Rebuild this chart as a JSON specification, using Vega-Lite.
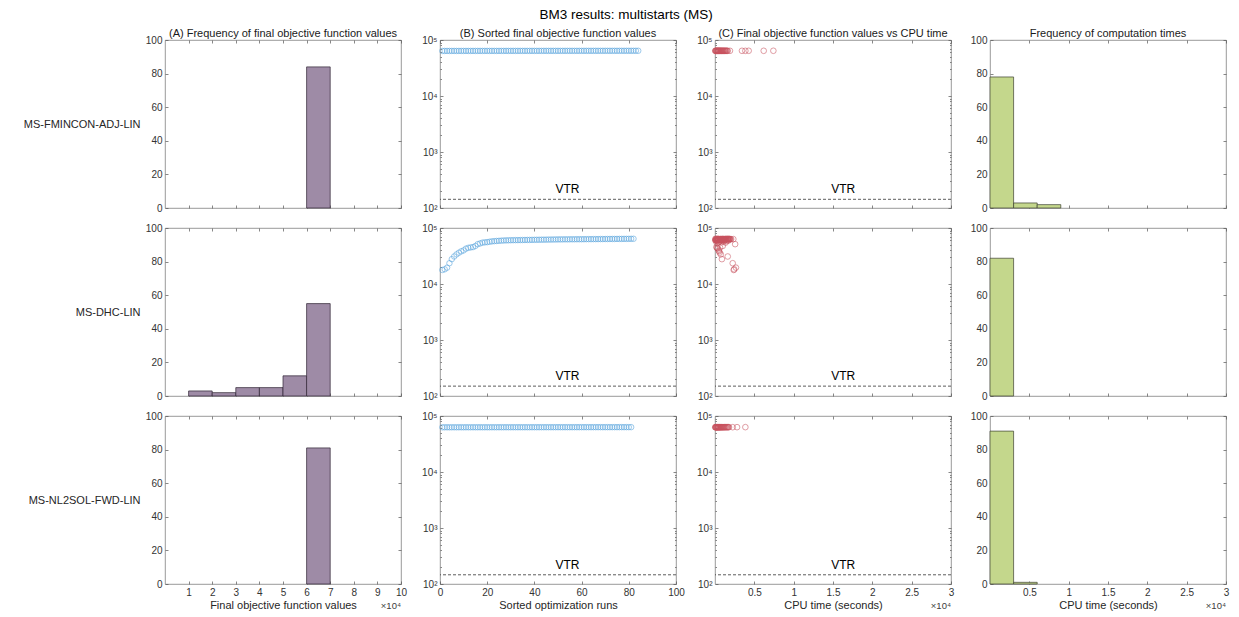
{
  "$schema": "https://vega.github.io/schema/vega-lite/v6.json",
  "title": {"text": "BM3 results: multistarts (MS)", "fontSize": 13.5, "offset": 6, "frame": "bounds", "anchor": "middle", "color": "#000000"},
  "padding": {"left": 22, "top": 8, "right": 5, "bottom": 5},
  "bounds": "flush",
  "columns": 4,
  "spacing": {"row": 20, "column": 39},
  "datasets": {
    "objHist": [
      {"method": "MS-FMINCON-ADJ-LIN", "lo": 60000, "hi": 70000, "count": 84},
      {"method": "MS-DHC-LIN", "lo": 10000, "hi": 20000, "count": 3},
      {"method": "MS-DHC-LIN", "lo": 20000, "hi": 30000, "count": 2},
      {"method": "MS-DHC-LIN", "lo": 30000, "hi": 40000, "count": 5},
      {"method": "MS-DHC-LIN", "lo": 40000, "hi": 50000, "count": 5},
      {"method": "MS-DHC-LIN", "lo": 50000, "hi": 60000, "count": 12},
      {"method": "MS-DHC-LIN", "lo": 60000, "hi": 70000, "count": 55},
      {"method": "MS-NL2SOL-FWD-LIN", "lo": 60000, "hi": 70000, "count": 81},
      {"method": "MS-NL2SOL-FWD-LIN", "note": "×10⁴"}
    ],
    "cpuHist": [
      {"method": "MS-FMINCON-ADJ-LIN", "lo": 0, "hi": 3000, "count": 78},
      {"method": "MS-FMINCON-ADJ-LIN", "lo": 3000, "hi": 6000, "count": 3},
      {"method": "MS-FMINCON-ADJ-LIN", "lo": 6000, "hi": 9000, "count": 2},
      {"method": "MS-DHC-LIN", "lo": 0, "hi": 3000, "count": 82},
      {"method": "MS-NL2SOL-FWD-LIN", "lo": 0, "hi": 3000, "count": 91},
      {"method": "MS-NL2SOL-FWD-LIN", "lo": 3000, "hi": 6000, "count": 1},
      {"method": "MS-NL2SOL-FWD-LIN", "note": "×10⁴"}
    ],
    "sortedRuns": [
      {"method": "MS-FMINCON-ADJ-LIN", "vtr": 143},
      {"method": "MS-DHC-LIN", "vtr": 150},
      {"method": "MS-NL2SOL-FWD-LIN", "vtr": 146},
      {"method": "MS-FMINCON-ADJ-LIN", "run": 1, "f": 63790}, {"method": "MS-FMINCON-ADJ-LIN", "run": 2, "f": 63795}, {"method": "MS-FMINCON-ADJ-LIN", "run": 3, "f": 63801}, {"method": "MS-FMINCON-ADJ-LIN", "run": 4, "f": 63806}, {"method": "MS-FMINCON-ADJ-LIN", "run": 5, "f": 63808},
      {"method": "MS-FMINCON-ADJ-LIN", "run": 6, "f": 63815}, {"method": "MS-FMINCON-ADJ-LIN", "run": 7, "f": 63821}, {"method": "MS-FMINCON-ADJ-LIN", "run": 8, "f": 63824}, {"method": "MS-FMINCON-ADJ-LIN", "run": 9, "f": 63830}, {"method": "MS-FMINCON-ADJ-LIN", "run": 10, "f": 63836},
      {"method": "MS-FMINCON-ADJ-LIN", "run": 11, "f": 63841}, {"method": "MS-FMINCON-ADJ-LIN", "run": 12, "f": 63845}, {"method": "MS-FMINCON-ADJ-LIN", "run": 13, "f": 63852}, {"method": "MS-FMINCON-ADJ-LIN", "run": 14, "f": 63856}, {"method": "MS-FMINCON-ADJ-LIN", "run": 15, "f": 63860},
      {"method": "MS-FMINCON-ADJ-LIN", "run": 16, "f": 63867}, {"method": "MS-FMINCON-ADJ-LIN", "run": 17, "f": 63871}, {"method": "MS-FMINCON-ADJ-LIN", "run": 18, "f": 63875}, {"method": "MS-FMINCON-ADJ-LIN", "run": 19, "f": 63882}, {"method": "MS-FMINCON-ADJ-LIN", "run": 20, "f": 63888},
      {"method": "MS-FMINCON-ADJ-LIN", "run": 21, "f": 63890}, {"method": "MS-FMINCON-ADJ-LIN", "run": 22, "f": 63896}, {"method": "MS-FMINCON-ADJ-LIN", "run": 23, "f": 63903}, {"method": "MS-FMINCON-ADJ-LIN", "run": 24, "f": 63907}, {"method": "MS-FMINCON-ADJ-LIN", "run": 25, "f": 63912},
      {"method": "MS-FMINCON-ADJ-LIN", "run": 26, "f": 63918}, {"method": "MS-FMINCON-ADJ-LIN", "run": 27, "f": 63921}, {"method": "MS-FMINCON-ADJ-LIN", "run": 28, "f": 63927}, {"method": "MS-FMINCON-ADJ-LIN", "run": 29, "f": 63934}, {"method": "MS-FMINCON-ADJ-LIN", "run": 30, "f": 63938},
      {"method": "MS-FMINCON-ADJ-LIN", "run": 31, "f": 63941}, {"method": "MS-FMINCON-ADJ-LIN", "run": 32, "f": 63948}, {"method": "MS-FMINCON-ADJ-LIN", "run": 33, "f": 63953}, {"method": "MS-FMINCON-ADJ-LIN", "run": 34, "f": 63957}, {"method": "MS-FMINCON-ADJ-LIN", "run": 35, "f": 63962},
      {"method": "MS-FMINCON-ADJ-LIN", "run": 36, "f": 63968}, {"method": "MS-FMINCON-ADJ-LIN", "run": 37, "f": 63971}, {"method": "MS-FMINCON-ADJ-LIN", "run": 38, "f": 63977}, {"method": "MS-FMINCON-ADJ-LIN", "run": 39, "f": 63983}, {"method": "MS-FMINCON-ADJ-LIN", "run": 40, "f": 63986},
      {"method": "MS-FMINCON-ADJ-LIN", "run": 41, "f": 63992}, {"method": "MS-FMINCON-ADJ-LIN", "run": 42, "f": 63998}, {"method": "MS-FMINCON-ADJ-LIN", "run": 43, "f": 64002}, {"method": "MS-FMINCON-ADJ-LIN", "run": 44, "f": 64009}, {"method": "MS-FMINCON-ADJ-LIN", "run": 45, "f": 64013},
      {"method": "MS-FMINCON-ADJ-LIN", "run": 46, "f": 64017}, {"method": "MS-FMINCON-ADJ-LIN", "run": 47, "f": 64024}, {"method": "MS-FMINCON-ADJ-LIN", "run": 48, "f": 64029}, {"method": "MS-FMINCON-ADJ-LIN", "run": 49, "f": 64033}, {"method": "MS-FMINCON-ADJ-LIN", "run": 50, "f": 64038},
      {"method": "MS-FMINCON-ADJ-LIN", "run": 51, "f": 64044}, {"method": "MS-FMINCON-ADJ-LIN", "run": 52, "f": 64047}, {"method": "MS-FMINCON-ADJ-LIN", "run": 53, "f": 64053}, {"method": "MS-FMINCON-ADJ-LIN", "run": 54, "f": 64059}, {"method": "MS-FMINCON-ADJ-LIN", "run": 55, "f": 64062},
      {"method": "MS-FMINCON-ADJ-LIN", "run": 56, "f": 64068}, {"method": "MS-FMINCON-ADJ-LIN", "run": 57, "f": 64073}, {"method": "MS-FMINCON-ADJ-LIN", "run": 58, "f": 64079}, {"method": "MS-FMINCON-ADJ-LIN", "run": 59, "f": 64083}, {"method": "MS-FMINCON-ADJ-LIN", "run": 60, "f": 64088},
      {"method": "MS-FMINCON-ADJ-LIN", "run": 61, "f": 64094}, {"method": "MS-FMINCON-ADJ-LIN", "run": 62, "f": 64097}, {"method": "MS-FMINCON-ADJ-LIN", "run": 63, "f": 64103}, {"method": "MS-FMINCON-ADJ-LIN", "run": 64, "f": 64110}, {"method": "MS-FMINCON-ADJ-LIN", "run": 65, "f": 64114},
      {"method": "MS-FMINCON-ADJ-LIN", "run": 66, "f": 64118}, {"method": "MS-FMINCON-ADJ-LIN", "run": 67, "f": 64125}, {"method": "MS-FMINCON-ADJ-LIN", "run": 68, "f": 64129}, {"method": "MS-FMINCON-ADJ-LIN", "run": 69, "f": 64134}, {"method": "MS-FMINCON-ADJ-LIN", "run": 70, "f": 64139},
      {"method": "MS-FMINCON-ADJ-LIN", "run": 71, "f": 64144}, {"method": "MS-FMINCON-ADJ-LIN", "run": 72, "f": 64149}, {"method": "MS-FMINCON-ADJ-LIN", "run": 73, "f": 64155}, {"method": "MS-FMINCON-ADJ-LIN", "run": 74, "f": 64158}, {"method": "MS-FMINCON-ADJ-LIN", "run": 75, "f": 64164},
      {"method": "MS-FMINCON-ADJ-LIN", "run": 76, "f": 64170}, {"method": "MS-FMINCON-ADJ-LIN", "run": 77, "f": 64173}, {"method": "MS-FMINCON-ADJ-LIN", "run": 78, "f": 64179}, {"method": "MS-FMINCON-ADJ-LIN", "run": 79, "f": 64186}, {"method": "MS-FMINCON-ADJ-LIN", "run": 80, "f": 64190},
      {"method": "MS-FMINCON-ADJ-LIN", "run": 81, "f": 64195}, {"method": "MS-FMINCON-ADJ-LIN", "run": 82, "f": 64201}, {"method": "MS-FMINCON-ADJ-LIN", "run": 83, "f": 64208}, {"method": "MS-FMINCON-ADJ-LIN", "run": 84, "f": 64230},
      {"method": "MS-DHC-LIN", "run": 1, "f": 17800}, {"method": "MS-DHC-LIN", "run": 2, "f": 18300}, {"method": "MS-DHC-LIN", "run": 3, "f": 19600}, {"method": "MS-DHC-LIN", "run": 4, "f": 23500}, {"method": "MS-DHC-LIN", "run": 5, "f": 27800},
      {"method": "MS-DHC-LIN", "run": 6, "f": 31000}, {"method": "MS-DHC-LIN", "run": 7, "f": 33800}, {"method": "MS-DHC-LIN", "run": 8, "f": 36200}, {"method": "MS-DHC-LIN", "run": 9, "f": 38300}, {"method": "MS-DHC-LIN", "run": 10, "f": 39800},
      {"method": "MS-DHC-LIN", "run": 11, "f": 42800}, {"method": "MS-DHC-LIN", "run": 12, "f": 44300}, {"method": "MS-DHC-LIN", "run": 13, "f": 45000}, {"method": "MS-DHC-LIN", "run": 14, "f": 45600}, {"method": "MS-DHC-LIN", "run": 15, "f": 47800},
      {"method": "MS-DHC-LIN", "run": 16, "f": 51500}, {"method": "MS-DHC-LIN", "run": 17, "f": 53000}, {"method": "MS-DHC-LIN", "run": 18, "f": 54800}, {"method": "MS-DHC-LIN", "run": 19, "f": 55400}, {"method": "MS-DHC-LIN", "run": 20, "f": 55900},
      {"method": "MS-DHC-LIN", "run": 21, "f": 56800}, {"method": "MS-DHC-LIN", "run": 22, "f": 57700}, {"method": "MS-DHC-LIN", "run": 23, "f": 58200}, {"method": "MS-DHC-LIN", "run": 24, "f": 58700}, {"method": "MS-DHC-LIN", "run": 25, "f": 59100},
      {"method": "MS-DHC-LIN", "run": 26, "f": 59500}, {"method": "MS-DHC-LIN", "run": 27, "f": 59800}, {"method": "MS-DHC-LIN", "run": 28, "f": 60100}, {"method": "MS-DHC-LIN", "run": 29, "f": 60300}, {"method": "MS-DHC-LIN", "run": 30, "f": 60500},
      {"method": "MS-DHC-LIN", "run": 31, "f": 60600}, {"method": "MS-DHC-LIN", "run": 32, "f": 60700}, {"method": "MS-DHC-LIN", "run": 33, "f": 60800}, {"method": "MS-DHC-LIN", "run": 34, "f": 60900}, {"method": "MS-DHC-LIN", "run": 35, "f": 61000},
      {"method": "MS-DHC-LIN", "run": 36, "f": 61100}, {"method": "MS-DHC-LIN", "run": 37, "f": 61200}, {"method": "MS-DHC-LIN", "run": 38, "f": 61300}, {"method": "MS-DHC-LIN", "run": 39, "f": 61400}, {"method": "MS-DHC-LIN", "run": 40, "f": 61500},
      {"method": "MS-DHC-LIN", "run": 41, "f": 61600}, {"method": "MS-DHC-LIN", "run": 42, "f": 61700}, {"method": "MS-DHC-LIN", "run": 43, "f": 61800}, {"method": "MS-DHC-LIN", "run": 44, "f": 61900}, {"method": "MS-DHC-LIN", "run": 45, "f": 62000},
      {"method": "MS-DHC-LIN", "run": 46, "f": 62100}, {"method": "MS-DHC-LIN", "run": 47, "f": 62200}, {"method": "MS-DHC-LIN", "run": 48, "f": 62300}, {"method": "MS-DHC-LIN", "run": 49, "f": 62400}, {"method": "MS-DHC-LIN", "run": 50, "f": 62500},
      {"method": "MS-DHC-LIN", "run": 51, "f": 62600}, {"method": "MS-DHC-LIN", "run": 52, "f": 62650}, {"method": "MS-DHC-LIN", "run": 53, "f": 62700}, {"method": "MS-DHC-LIN", "run": 54, "f": 62750}, {"method": "MS-DHC-LIN", "run": 55, "f": 62800},
      {"method": "MS-DHC-LIN", "run": 56, "f": 62850}, {"method": "MS-DHC-LIN", "run": 57, "f": 62900}, {"method": "MS-DHC-LIN", "run": 58, "f": 62950}, {"method": "MS-DHC-LIN", "run": 59, "f": 63000}, {"method": "MS-DHC-LIN", "run": 60, "f": 63050},
      {"method": "MS-DHC-LIN", "run": 61, "f": 63100}, {"method": "MS-DHC-LIN", "run": 62, "f": 63150}, {"method": "MS-DHC-LIN", "run": 63, "f": 63200}, {"method": "MS-DHC-LIN", "run": 64, "f": 63250}, {"method": "MS-DHC-LIN", "run": 65, "f": 63300},
      {"method": "MS-DHC-LIN", "run": 66, "f": 63350}, {"method": "MS-DHC-LIN", "run": 67, "f": 63400}, {"method": "MS-DHC-LIN", "run": 68, "f": 63450}, {"method": "MS-DHC-LIN", "run": 69, "f": 63500}, {"method": "MS-DHC-LIN", "run": 70, "f": 63550},
      {"method": "MS-DHC-LIN", "run": 71, "f": 63600}, {"method": "MS-DHC-LIN", "run": 72, "f": 63650}, {"method": "MS-DHC-LIN", "run": 73, "f": 63700}, {"method": "MS-DHC-LIN", "run": 74, "f": 63750}, {"method": "MS-DHC-LIN", "run": 75, "f": 63800},
      {"method": "MS-DHC-LIN", "run": 76, "f": 63850}, {"method": "MS-DHC-LIN", "run": 77, "f": 63900}, {"method": "MS-DHC-LIN", "run": 78, "f": 63950}, {"method": "MS-DHC-LIN", "run": 79, "f": 64000}, {"method": "MS-DHC-LIN", "run": 80, "f": 64050},
      {"method": "MS-DHC-LIN", "run": 81, "f": 64100}, {"method": "MS-DHC-LIN", "run": 82, "f": 64200},
      {"method": "MS-NL2SOL-FWD-LIN", "run": 1, "f": 62840}, {"method": "MS-NL2SOL-FWD-LIN", "run": 2, "f": 62846}, {"method": "MS-NL2SOL-FWD-LIN", "run": 3, "f": 62851}, {"method": "MS-NL2SOL-FWD-LIN", "run": 4, "f": 62855}, {"method": "MS-NL2SOL-FWD-LIN", "run": 5, "f": 62861},
      {"method": "MS-NL2SOL-FWD-LIN", "run": 6, "f": 62864}, {"method": "MS-NL2SOL-FWD-LIN", "run": 7, "f": 62870}, {"method": "MS-NL2SOL-FWD-LIN", "run": 8, "f": 62876}, {"method": "MS-NL2SOL-FWD-LIN", "run": 9, "f": 62879}, {"method": "MS-NL2SOL-FWD-LIN", "run": 10, "f": 62885},
      {"method": "MS-NL2SOL-FWD-LIN", "run": 11, "f": 62889}, {"method": "MS-NL2SOL-FWD-LIN", "run": 12, "f": 62894}, {"method": "MS-NL2SOL-FWD-LIN", "run": 13, "f": 62900}, {"method": "MS-NL2SOL-FWD-LIN", "run": 14, "f": 62903}, {"method": "MS-NL2SOL-FWD-LIN", "run": 15, "f": 62909},
      {"method": "MS-NL2SOL-FWD-LIN", "run": 16, "f": 62914}, {"method": "MS-NL2SOL-FWD-LIN", "run": 17, "f": 62918}, {"method": "MS-NL2SOL-FWD-LIN", "run": 18, "f": 62923}, {"method": "MS-NL2SOL-FWD-LIN", "run": 19, "f": 62929}, {"method": "MS-NL2SOL-FWD-LIN", "run": 20, "f": 62932},
      {"method": "MS-NL2SOL-FWD-LIN", "run": 21, "f": 62938}, {"method": "MS-NL2SOL-FWD-LIN", "run": 22, "f": 62943}, {"method": "MS-NL2SOL-FWD-LIN", "run": 23, "f": 62947}, {"method": "MS-NL2SOL-FWD-LIN", "run": 24, "f": 62952}, {"method": "MS-NL2SOL-FWD-LIN", "run": 25, "f": 62958},
      {"method": "MS-NL2SOL-FWD-LIN", "run": 26, "f": 62961}, {"method": "MS-NL2SOL-FWD-LIN", "run": 27, "f": 62967}, {"method": "MS-NL2SOL-FWD-LIN", "run": 28, "f": 62972}, {"method": "MS-NL2SOL-FWD-LIN", "run": 29, "f": 62976}, {"method": "MS-NL2SOL-FWD-LIN", "run": 30, "f": 62981},
      {"method": "MS-NL2SOL-FWD-LIN", "run": 31, "f": 62987}, {"method": "MS-NL2SOL-FWD-LIN", "run": 32, "f": 62990}, {"method": "MS-NL2SOL-FWD-LIN", "run": 33, "f": 62996}, {"method": "MS-NL2SOL-FWD-LIN", "run": 34, "f": 63001}, {"method": "MS-NL2SOL-FWD-LIN", "run": 35, "f": 63005},
      {"method": "MS-NL2SOL-FWD-LIN", "run": 36, "f": 63010}, {"method": "MS-NL2SOL-FWD-LIN", "run": 37, "f": 63016}, {"method": "MS-NL2SOL-FWD-LIN", "run": 38, "f": 63019}, {"method": "MS-NL2SOL-FWD-LIN", "run": 39, "f": 63025}, {"method": "MS-NL2SOL-FWD-LIN", "run": 40, "f": 63030},
      {"method": "MS-NL2SOL-FWD-LIN", "run": 41, "f": 63034}, {"method": "MS-NL2SOL-FWD-LIN", "run": 42, "f": 63039}, {"method": "MS-NL2SOL-FWD-LIN", "run": 43, "f": 63045}, {"method": "MS-NL2SOL-FWD-LIN", "run": 44, "f": 63048}, {"method": "MS-NL2SOL-FWD-LIN", "run": 45, "f": 63054},
      {"method": "MS-NL2SOL-FWD-LIN", "run": 46, "f": 63059}, {"method": "MS-NL2SOL-FWD-LIN", "run": 47, "f": 63063}, {"method": "MS-NL2SOL-FWD-LIN", "run": 48, "f": 63068}, {"method": "MS-NL2SOL-FWD-LIN", "run": 49, "f": 63074}, {"method": "MS-NL2SOL-FWD-LIN", "run": 50, "f": 63077},
      {"method": "MS-NL2SOL-FWD-LIN", "run": 51, "f": 63083}, {"method": "MS-NL2SOL-FWD-LIN", "run": 52, "f": 63088}, {"method": "MS-NL2SOL-FWD-LIN", "run": 53, "f": 63092}, {"method": "MS-NL2SOL-FWD-LIN", "run": 54, "f": 63097}, {"method": "MS-NL2SOL-FWD-LIN", "run": 55, "f": 63103},
      {"method": "MS-NL2SOL-FWD-LIN", "run": 56, "f": 63106}, {"method": "MS-NL2SOL-FWD-LIN", "run": 57, "f": 63112}, {"method": "MS-NL2SOL-FWD-LIN", "run": 58, "f": 63117}, {"method": "MS-NL2SOL-FWD-LIN", "run": 59, "f": 63121}, {"method": "MS-NL2SOL-FWD-LIN", "run": 60, "f": 63126},
      {"method": "MS-NL2SOL-FWD-LIN", "run": 61, "f": 63132}, {"method": "MS-NL2SOL-FWD-LIN", "run": 62, "f": 63135}, {"method": "MS-NL2SOL-FWD-LIN", "run": 63, "f": 63141}, {"method": "MS-NL2SOL-FWD-LIN", "run": 64, "f": 63146}, {"method": "MS-NL2SOL-FWD-LIN", "run": 65, "f": 63150},
      {"method": "MS-NL2SOL-FWD-LIN", "run": 66, "f": 63155}, {"method": "MS-NL2SOL-FWD-LIN", "run": 67, "f": 63161}, {"method": "MS-NL2SOL-FWD-LIN", "run": 68, "f": 63164}, {"method": "MS-NL2SOL-FWD-LIN", "run": 69, "f": 63170}, {"method": "MS-NL2SOL-FWD-LIN", "run": 70, "f": 63175},
      {"method": "MS-NL2SOL-FWD-LIN", "run": 71, "f": 63179}, {"method": "MS-NL2SOL-FWD-LIN", "run": 72, "f": 63184}, {"method": "MS-NL2SOL-FWD-LIN", "run": 73, "f": 63190}, {"method": "MS-NL2SOL-FWD-LIN", "run": 74, "f": 63193}, {"method": "MS-NL2SOL-FWD-LIN", "run": 75, "f": 63199},
      {"method": "MS-NL2SOL-FWD-LIN", "run": 76, "f": 63204}, {"method": "MS-NL2SOL-FWD-LIN", "run": 77, "f": 63208}, {"method": "MS-NL2SOL-FWD-LIN", "run": 78, "f": 63213}, {"method": "MS-NL2SOL-FWD-LIN", "run": 79, "f": 63219}, {"method": "MS-NL2SOL-FWD-LIN", "run": 80, "f": 63222},
      {"method": "MS-NL2SOL-FWD-LIN", "run": 81, "f": 63240}
    ],
    "cpuScatter": [
      {"method": "MS-FMINCON-ADJ-LIN", "vtr": 143},
      {"method": "MS-DHC-LIN", "vtr": 150},
      {"method": "MS-NL2SOL-FWD-LIN", "vtr": 146},
      {"method": "MS-NL2SOL-FWD-LIN", "note": "×10⁴"},
      {"method": "MS-FMINCON-ADJ-LIN", "t": 35, "f": 64010}, {"method": "MS-FMINCON-ADJ-LIN", "t": 70, "f": 63950}, {"method": "MS-FMINCON-ADJ-LIN", "t": 110, "f": 64080}, {"method": "MS-FMINCON-ADJ-LIN", "t": 150, "f": 63990},
      {"method": "MS-FMINCON-ADJ-LIN", "t": 190, "f": 64120}, {"method": "MS-FMINCON-ADJ-LIN", "t": 230, "f": 63900}, {"method": "MS-FMINCON-ADJ-LIN", "t": 280, "f": 64040}, {"method": "MS-FMINCON-ADJ-LIN", "t": 320, "f": 64160},
      {"method": "MS-FMINCON-ADJ-LIN", "t": 360, "f": 63970}, {"method": "MS-FMINCON-ADJ-LIN", "t": 410, "f": 64060}, {"method": "MS-FMINCON-ADJ-LIN", "t": 450, "f": 64110}, {"method": "MS-FMINCON-ADJ-LIN", "t": 500, "f": 63930},
      {"method": "MS-FMINCON-ADJ-LIN", "t": 540, "f": 64020}, {"method": "MS-FMINCON-ADJ-LIN", "t": 590, "f": 64140}, {"method": "MS-FMINCON-ADJ-LIN", "t": 640, "f": 63980}, {"method": "MS-FMINCON-ADJ-LIN", "t": 690, "f": 64070},
      {"method": "MS-FMINCON-ADJ-LIN", "t": 740, "f": 64190}, {"method": "MS-FMINCON-ADJ-LIN", "t": 790, "f": 63960}, {"method": "MS-FMINCON-ADJ-LIN", "t": 850, "f": 64050}, {"method": "MS-FMINCON-ADJ-LIN", "t": 900, "f": 64130},
      {"method": "MS-FMINCON-ADJ-LIN", "t": 960, "f": 64000}, {"method": "MS-FMINCON-ADJ-LIN", "t": 1010, "f": 64090}, {"method": "MS-FMINCON-ADJ-LIN", "t": 1070, "f": 63940}, {"method": "MS-FMINCON-ADJ-LIN", "t": 1130, "f": 64150},
      {"method": "MS-FMINCON-ADJ-LIN", "t": 1190, "f": 64030}, {"method": "MS-FMINCON-ADJ-LIN", "t": 1250, "f": 64100}, {"method": "MS-FMINCON-ADJ-LIN", "t": 1320, "f": 64170}, {"method": "MS-FMINCON-ADJ-LIN", "t": 1390, "f": 64010},
      {"method": "MS-FMINCON-ADJ-LIN", "t": 1460, "f": 64080}, {"method": "MS-FMINCON-ADJ-LIN", "t": 1540, "f": 64200}, {"method": "MS-FMINCON-ADJ-LIN", "t": 1620, "f": 64060}, {"method": "MS-FMINCON-ADJ-LIN", "t": 1900, "f": 64120},
      {"method": "MS-FMINCON-ADJ-LIN", "t": 3430, "f": 64180}, {"method": "MS-FMINCON-ADJ-LIN", "t": 3860, "f": 64050}, {"method": "MS-FMINCON-ADJ-LIN", "t": 4280, "f": 64210}, {"method": "MS-FMINCON-ADJ-LIN", "t": 6190, "f": 64140},
      {"method": "MS-FMINCON-ADJ-LIN", "t": 7420, "f": 64230},
      {"method": "MS-DHC-LIN", "t": 2380, "f": 17800}, {"method": "MS-DHC-LIN", "t": 2440, "f": 18300}, {"method": "MS-DHC-LIN", "t": 2660, "f": 19600}, {"method": "MS-DHC-LIN", "t": 2250, "f": 23500},
      {"method": "MS-DHC-LIN", "t": 880, "f": 27800}, {"method": "MS-DHC-LIN", "t": 1620, "f": 31000}, {"method": "MS-DHC-LIN", "t": 740, "f": 33800}, {"method": "MS-DHC-LIN", "t": 600, "f": 36200},
      {"method": "MS-DHC-LIN", "t": 520, "f": 38300}, {"method": "MS-DHC-LIN", "t": 470, "f": 39800}, {"method": "MS-DHC-LIN", "t": 330, "f": 42800}, {"method": "MS-DHC-LIN", "t": 260, "f": 44300},
      {"method": "MS-DHC-LIN", "t": 640, "f": 45000}, {"method": "MS-DHC-LIN", "t": 180, "f": 45600}, {"method": "MS-DHC-LIN", "t": 980, "f": 47800}, {"method": "MS-DHC-LIN", "t": 2560, "f": 51500},
      {"method": "MS-DHC-LIN", "t": 240, "f": 53000}, {"method": "MS-DHC-LIN", "t": 1350, "f": 54800}, {"method": "MS-DHC-LIN", "t": 420, "f": 55400}, {"method": "MS-DHC-LIN", "t": 820, "f": 55900},
      {"method": "MS-DHC-LIN", "t": 1100, "f": 56800}, {"method": "MS-DHC-LIN", "t": 560, "f": 57700}, {"method": "MS-DHC-LIN", "t": 1480, "f": 58200}, {"method": "MS-DHC-LIN", "t": 300, "f": 58700},
      {"method": "MS-DHC-LIN", "t": 900, "f": 59100}, {"method": "MS-DHC-LIN", "t": 1700, "f": 59500}, {"method": "MS-DHC-LIN", "t": 1220, "f": 59800},
      {"method": "MS-DHC-LIN", "t": 40, "f": 60100}, {"method": "MS-DHC-LIN", "t": 80, "f": 60300}, {"method": "MS-DHC-LIN", "t": 120, "f": 60500}, {"method": "MS-DHC-LIN", "t": 160, "f": 60600},
      {"method": "MS-DHC-LIN", "t": 200, "f": 60700}, {"method": "MS-DHC-LIN", "t": 250, "f": 60800}, {"method": "MS-DHC-LIN", "t": 300, "f": 60900}, {"method": "MS-DHC-LIN", "t": 350, "f": 61000},
      {"method": "MS-DHC-LIN", "t": 400, "f": 61100}, {"method": "MS-DHC-LIN", "t": 450, "f": 61200}, {"method": "MS-DHC-LIN", "t": 500, "f": 61300}, {"method": "MS-DHC-LIN", "t": 550, "f": 61400},
      {"method": "MS-DHC-LIN", "t": 600, "f": 61500}, {"method": "MS-DHC-LIN", "t": 650, "f": 61600}, {"method": "MS-DHC-LIN", "t": 700, "f": 61700}, {"method": "MS-DHC-LIN", "t": 760, "f": 61800},
      {"method": "MS-DHC-LIN", "t": 820, "f": 61900}, {"method": "MS-DHC-LIN", "t": 880, "f": 62000}, {"method": "MS-DHC-LIN", "t": 940, "f": 62100}, {"method": "MS-DHC-LIN", "t": 1000, "f": 62200},
      {"method": "MS-DHC-LIN", "t": 1060, "f": 62300}, {"method": "MS-DHC-LIN", "t": 1120, "f": 62400}, {"method": "MS-DHC-LIN", "t": 1180, "f": 62500}, {"method": "MS-DHC-LIN", "t": 1240, "f": 62600},
      {"method": "MS-DHC-LIN", "t": 1300, "f": 62650}, {"method": "MS-DHC-LIN", "t": 1360, "f": 62700}, {"method": "MS-DHC-LIN", "t": 1420, "f": 62750}, {"method": "MS-DHC-LIN", "t": 1480, "f": 62800},
      {"method": "MS-DHC-LIN", "t": 1540, "f": 62850}, {"method": "MS-DHC-LIN", "t": 1600, "f": 62900}, {"method": "MS-DHC-LIN", "t": 1660, "f": 62950}, {"method": "MS-DHC-LIN", "t": 1720, "f": 63000},
      {"method": "MS-DHC-LIN", "t": 1780, "f": 63050}, {"method": "MS-DHC-LIN", "t": 1840, "f": 63100}, {"method": "MS-DHC-LIN", "t": 1900, "f": 63150}, {"method": "MS-DHC-LIN", "t": 1960, "f": 63200},
      {"method": "MS-DHC-LIN", "t": 2050, "f": 63250}, {"method": "MS-DHC-LIN", "t": 2330, "f": 63300}, {"method": "MS-DHC-LIN", "t": 90, "f": 63350}, {"method": "MS-DHC-LIN", "t": 140, "f": 63400},
      {"method": "MS-DHC-LIN", "t": 230, "f": 63450}, {"method": "MS-DHC-LIN", "t": 380, "f": 63500}, {"method": "MS-DHC-LIN", "t": 470, "f": 63550}, {"method": "MS-DHC-LIN", "t": 620, "f": 63600},
      {"method": "MS-DHC-LIN", "t": 710, "f": 63650}, {"method": "MS-DHC-LIN", "t": 860, "f": 63700}, {"method": "MS-DHC-LIN", "t": 960, "f": 63750}, {"method": "MS-DHC-LIN", "t": 1090, "f": 63800},
      {"method": "MS-DHC-LIN", "t": 1270, "f": 63850}, {"method": "MS-DHC-LIN", "t": 1390, "f": 63900}, {"method": "MS-DHC-LIN", "t": 1520, "f": 63950}, {"method": "MS-DHC-LIN", "t": 1650, "f": 64000},
      {"method": "MS-DHC-LIN", "t": 1810, "f": 64050}, {"method": "MS-DHC-LIN", "t": 60, "f": 64100}, {"method": "MS-DHC-LIN", "t": 330, "f": 64200},
      {"method": "MS-NL2SOL-FWD-LIN", "t": 30, "f": 62900}, {"method": "MS-NL2SOL-FWD-LIN", "t": 60, "f": 63010}, {"method": "MS-NL2SOL-FWD-LIN", "t": 95, "f": 62950}, {"method": "MS-NL2SOL-FWD-LIN", "t": 130, "f": 63080},
      {"method": "MS-NL2SOL-FWD-LIN", "t": 165, "f": 62880}, {"method": "MS-NL2SOL-FWD-LIN", "t": 200, "f": 63040}, {"method": "MS-NL2SOL-FWD-LIN", "t": 240, "f": 63120}, {"method": "MS-NL2SOL-FWD-LIN", "t": 280, "f": 62970},
      {"method": "MS-NL2SOL-FWD-LIN", "t": 320, "f": 63060}, {"method": "MS-NL2SOL-FWD-LIN", "t": 360, "f": 63150}, {"method": "MS-NL2SOL-FWD-LIN", "t": 400, "f": 62920}, {"method": "MS-NL2SOL-FWD-LIN", "t": 445, "f": 63030},
      {"method": "MS-NL2SOL-FWD-LIN", "t": 490, "f": 63100}, {"method": "MS-NL2SOL-FWD-LIN", "t": 535, "f": 62990}, {"method": "MS-NL2SOL-FWD-LIN", "t": 580, "f": 63170}, {"method": "MS-NL2SOL-FWD-LIN", "t": 630, "f": 63050},
      {"method": "MS-NL2SOL-FWD-LIN", "t": 680, "f": 62940}, {"method": "MS-NL2SOL-FWD-LIN", "t": 730, "f": 63130}, {"method": "MS-NL2SOL-FWD-LIN", "t": 780, "f": 63020}, {"method": "MS-NL2SOL-FWD-LIN", "t": 840, "f": 63190},
      {"method": "MS-NL2SOL-FWD-LIN", "t": 900, "f": 63070}, {"method": "MS-NL2SOL-FWD-LIN", "t": 960, "f": 62960}, {"method": "MS-NL2SOL-FWD-LIN", "t": 1020, "f": 63110}, {"method": "MS-NL2SOL-FWD-LIN", "t": 1090, "f": 63000},
      {"method": "MS-NL2SOL-FWD-LIN", "t": 1160, "f": 63160}, {"method": "MS-NL2SOL-FWD-LIN", "t": 1230, "f": 63090}, {"method": "MS-NL2SOL-FWD-LIN", "t": 1300, "f": 63210}, {"method": "MS-NL2SOL-FWD-LIN", "t": 1380, "f": 63040},
      {"method": "MS-NL2SOL-FWD-LIN", "t": 1460, "f": 63140}, {"method": "MS-NL2SOL-FWD-LIN", "t": 1540, "f": 63200}, {"method": "MS-NL2SOL-FWD-LIN", "t": 1620, "f": 63080}, {"method": "MS-NL2SOL-FWD-LIN", "t": 1700, "f": 63180},
      {"method": "MS-NL2SOL-FWD-LIN", "t": 1780, "f": 63230}, {"method": "MS-NL2SOL-FWD-LIN", "t": 2250, "f": 63120}, {"method": "MS-NL2SOL-FWD-LIN", "t": 2800, "f": 63200}, {"method": "MS-NL2SOL-FWD-LIN", "t": 3860, "f": 63240}
    ]
  },
  "concat": [
    {
      "title": "(A) Frequency of final objective function values",
      "width": 236, "height": 168,
      "data": {"name": "objHist"},
      "transform": [{"filter": "datum.method == 'MS-FMINCON-ADJ-LIN'"}],
      "resolve": {"axis": {"x": "independent", "y": "independent"}},
      "layer": [
        {
          "mark": {"type": "rect", "fill": "#9e8ba6", "stroke": "#2e2433", "strokeWidth": 0.7},
          "encoding": {
            "x": {"field": "lo", "type": "quantitative", "scale": {"domain": [0, 100000]}, "axis": {"values": [10000, 20000, 30000, 40000, 50000, 60000, 70000, 80000, 90000, 100000], "labels": false, "title": null}},
            "x2": {"field": "hi"},
            "y": {"field": "count", "type": "quantitative", "scale": {"domain": [0, 100]},
                  "axis": {"values": [0, 20, 40, 60, 80, 100], "title": "MS-FMINCON-ADJ-LIN", "titleAngle": 0, "titleAlign": "right", "titleBaseline": "middle", "titleX": -25, "titleY": 84, "titleFontSize": 11}},
            "y2": {"datum": 0}
          }
        },
        {
          "mark": {"type": "point", "opacity": 0},
          "encoding": {
            "x": {"datum": 0, "type": "quantitative", "scale": {"domain": [0, 100000]}, "axis": {"orient": "top", "values": [10000, 20000, 30000, 40000, 50000, 60000, 70000, 80000, 90000, 100000], "labels": false, "title": null}},
            "y": {"datum": 0, "type": "quantitative", "scale": {"domain": [0, 100]}, "axis": {"orient": "right", "values": [0, 20, 40, 60, 80, 100], "labels": false, "title": null}}
          }
        }
      ]
    },
    {
      "title": "(B) Sorted final objective function values",
      "width": 236, "height": 168,
      "data": {"name": "sortedRuns"},
      "transform": [{"filter": "datum.method == 'MS-FMINCON-ADJ-LIN'"}],
      "resolve": {"axis": {"x": "independent", "y": "independent"}},
      "layer": [
        {
          "transform": [{"filter": "isValid(datum.run)"}],
          "mark": {"type": "point", "shape": "circle", "filled": false, "stroke": "#4f9fdc", "strokeWidth": 0.8, "size": 30},
          "encoding": {
            "x": {"field": "run", "type": "quantitative", "scale": {"domain": [0, 100]}, "axis": {"values": [0, 20, 40, 60, 80, 100], "labels": false, "title": null}},
            "y": {"field": "f", "type": "quantitative", "scale": {"type": "log", "domain": [100, 100000]},
                  "axis": {"title": null, "values": [100, 200, 300, 400, 500, 600, 700, 800, 900, 1000, 2000, 3000, 4000, 5000, 6000, 7000, 8000, 9000, 10000, 20000, 30000, 40000, 50000, 60000, 70000, 80000, 90000, 100000],
                           "labelExpr": "datum.value == 100 ? '10²' : datum.value == 1000 ? '10³' : datum.value == 10000 ? '10⁴' : datum.value == 100000 ? '10⁵' : ''",
                           "tickSize": {"condition": {"test": "datum.value == 100 || datum.value == 1000 || datum.value == 10000 || datum.value == 100000", "value": -3}, "value": -1.5}}}
          }
        },
        {
          "transform": [{"filter": "isValid(datum.vtr)"}],
          "mark": {"type": "rule", "stroke": "#333333", "strokeWidth": 0.8, "strokeDash": [3, 2]},
          "encoding": {"y": {"field": "vtr", "type": "quantitative", "scale": {"type": "log", "domain": [100, 100000]}, "axis": null}}
        },
        {
          "transform": [{"filter": "isValid(datum.vtr)"}],
          "mark": {"type": "text", "text": "VTR", "baseline": "bottom", "dy": -3, "fontSize": 12, "color": "#000000"},
          "encoding": {"x": {"datum": 54, "type": "quantitative", "scale": {"domain": [0, 100]}, "axis": null}, "y": {"field": "vtr", "type": "quantitative", "scale": {"type": "log", "domain": [100, 100000]}, "axis": null}}
        },
        {
          "mark": {"type": "point", "opacity": 0},
          "encoding": {
            "x": {"datum": 0, "type": "quantitative", "scale": {"domain": [0, 100]}, "axis": {"orient": "top", "values": [0, 20, 40, 60, 80, 100], "labels": false, "title": null}},
            "y": {"datum": 1000, "type": "quantitative", "scale": {"type": "log", "domain": [100, 100000]},
                  "axis": {"orient": "right", "labels": false, "title": null, "values": [100, 200, 300, 400, 500, 600, 700, 800, 900, 1000, 2000, 3000, 4000, 5000, 6000, 7000, 8000, 9000, 10000, 20000, 30000, 40000, 50000, 60000, 70000, 80000, 90000, 100000],
                           "tickSize": {"condition": {"test": "datum.value == 100 || datum.value == 1000 || datum.value == 10000 || datum.value == 100000", "value": -3}, "value": -1.5}}}
          }
        }
      ]
    },
    {
      "title": "(C) Final objective function values vs CPU time",
      "width": 236, "height": 168,
      "data": {"name": "cpuScatter"},
      "transform": [{"filter": "datum.method == 'MS-FMINCON-ADJ-LIN'"}],
      "resolve": {"axis": {"x": "independent", "y": "independent"}},
      "layer": [
        {
          "transform": [{"filter": "isValid(datum.t)"}],
          "mark": {"type": "point", "shape": "circle", "filled": false, "stroke": "#c8525e", "strokeWidth": 0.8, "size": 32},
          "encoding": {
            "x": {"field": "t", "type": "quantitative", "scale": {"domain": [0, 30000]}, "axis": {"values": [5000, 10000, 15000, 20000, 25000, 30000], "labels": false, "title": null}},
            "y": {"field": "f", "type": "quantitative", "scale": {"type": "log", "domain": [100, 100000]},
                  "axis": {"title": null, "values": [100, 200, 300, 400, 500, 600, 700, 800, 900, 1000, 2000, 3000, 4000, 5000, 6000, 7000, 8000, 9000, 10000, 20000, 30000, 40000, 50000, 60000, 70000, 80000, 90000, 100000],
                           "labelExpr": "datum.value == 100 ? '10²' : datum.value == 1000 ? '10³' : datum.value == 10000 ? '10⁴' : datum.value == 100000 ? '10⁵' : ''",
                           "tickSize": {"condition": {"test": "datum.value == 100 || datum.value == 1000 || datum.value == 10000 || datum.value == 100000", "value": -3}, "value": -1.5}}}
          }
        },
        {
          "transform": [{"filter": "isValid(datum.vtr)"}],
          "mark": {"type": "rule", "stroke": "#333333", "strokeWidth": 0.8, "strokeDash": [3, 2]},
          "encoding": {"y": {"field": "vtr", "type": "quantitative", "scale": {"type": "log", "domain": [100, 100000]}, "axis": null}}
        },
        {
          "transform": [{"filter": "isValid(datum.vtr)"}],
          "mark": {"type": "text", "text": "VTR", "baseline": "bottom", "dy": -3, "fontSize": 12, "color": "#000000"},
          "encoding": {"x": {"datum": 16300, "type": "quantitative", "scale": {"domain": [0, 30000]}, "axis": null}, "y": {"field": "vtr", "type": "quantitative", "scale": {"type": "log", "domain": [100, 100000]}, "axis": null}}
        },
        {
          "mark": {"type": "point", "opacity": 0},
          "encoding": {
            "x": {"datum": 0, "type": "quantitative", "scale": {"domain": [0, 30000]}, "axis": {"orient": "top", "values": [5000, 10000, 15000, 20000, 25000, 30000], "labels": false, "title": null}},
            "y": {"datum": 1000, "type": "quantitative", "scale": {"type": "log", "domain": [100, 100000]},
                  "axis": {"orient": "right", "labels": false, "title": null, "values": [100, 200, 300, 400, 500, 600, 700, 800, 900, 1000, 2000, 3000, 4000, 5000, 6000, 7000, 8000, 9000, 10000, 20000, 30000, 40000, 50000, 60000, 70000, 80000, 90000, 100000],
                           "tickSize": {"condition": {"test": "datum.value == 100 || datum.value == 1000 || datum.value == 10000 || datum.value == 100000", "value": -3}, "value": -1.5}}}
          }
        }
      ]
    },
    {
      "title": "Frequency of computation times",
      "width": 236, "height": 168,
      "data": {"name": "cpuHist"},
      "transform": [{"filter": "datum.method == 'MS-FMINCON-ADJ-LIN'"}],
      "resolve": {"axis": {"x": "independent", "y": "independent"}},
      "layer": [
        {
          "mark": {"type": "rect", "fill": "#c4d78c", "stroke": "#3c4030", "strokeWidth": 0.7},
          "encoding": {
            "x": {"field": "lo", "type": "quantitative", "scale": {"domain": [0, 30000]}, "axis": {"values": [5000, 10000, 15000, 20000, 25000, 30000], "labels": false, "title": null}},
            "x2": {"field": "hi"},
            "y": {"field": "count", "type": "quantitative", "scale": {"domain": [0, 100]}, "axis": {"values": [0, 20, 40, 60, 80, 100], "title": null}},
            "y2": {"datum": 0}
          }
        },
        {
          "mark": {"type": "point", "opacity": 0},
          "encoding": {
            "x": {"datum": 0, "type": "quantitative", "scale": {"domain": [0, 30000]}, "axis": {"orient": "top", "values": [5000, 10000, 15000, 20000, 25000, 30000], "labels": false, "title": null}},
            "y": {"datum": 0, "type": "quantitative", "scale": {"domain": [0, 100]}, "axis": {"orient": "right", "values": [0, 20, 40, 60, 80, 100], "labels": false, "title": null}}
          }
        }
      ]
    },
    {
      "width": 236, "height": 168,
      "data": {"name": "objHist"},
      "transform": [{"filter": "datum.method == 'MS-DHC-LIN'"}],
      "resolve": {"axis": {"x": "independent", "y": "independent"}},
      "layer": [
        {
          "mark": {"type": "rect", "fill": "#9e8ba6", "stroke": "#2e2433", "strokeWidth": 0.7},
          "encoding": {
            "x": {"field": "lo", "type": "quantitative", "scale": {"domain": [0, 100000]}, "axis": {"values": [10000, 20000, 30000, 40000, 50000, 60000, 70000, 80000, 90000, 100000], "labels": false, "title": null}},
            "x2": {"field": "hi"},
            "y": {"field": "count", "type": "quantitative", "scale": {"domain": [0, 100]},
                  "axis": {"values": [0, 20, 40, 60, 80, 100], "title": "MS-DHC-LIN", "titleAngle": 0, "titleAlign": "right", "titleBaseline": "middle", "titleX": -25, "titleY": 84, "titleFontSize": 11}},
            "y2": {"datum": 0}
          }
        },
        {
          "mark": {"type": "point", "opacity": 0},
          "encoding": {
            "x": {"datum": 0, "type": "quantitative", "scale": {"domain": [0, 100000]}, "axis": {"orient": "top", "values": [10000, 20000, 30000, 40000, 50000, 60000, 70000, 80000, 90000, 100000], "labels": false, "title": null}},
            "y": {"datum": 0, "type": "quantitative", "scale": {"domain": [0, 100]}, "axis": {"orient": "right", "values": [0, 20, 40, 60, 80, 100], "labels": false, "title": null}}
          }
        }
      ]
    },
    {
      "width": 236, "height": 168,
      "data": {"name": "sortedRuns"},
      "transform": [{"filter": "datum.method == 'MS-DHC-LIN'"}],
      "resolve": {"axis": {"x": "independent", "y": "independent"}},
      "layer": [
        {
          "transform": [{"filter": "isValid(datum.run)"}],
          "mark": {"type": "point", "shape": "circle", "filled": false, "stroke": "#4f9fdc", "strokeWidth": 0.8, "size": 30},
          "encoding": {
            "x": {"field": "run", "type": "quantitative", "scale": {"domain": [0, 100]}, "axis": {"values": [0, 20, 40, 60, 80, 100], "labels": false, "title": null}},
            "y": {"field": "f", "type": "quantitative", "scale": {"type": "log", "domain": [100, 100000]},
                  "axis": {"title": null, "values": [100, 200, 300, 400, 500, 600, 700, 800, 900, 1000, 2000, 3000, 4000, 5000, 6000, 7000, 8000, 9000, 10000, 20000, 30000, 40000, 50000, 60000, 70000, 80000, 90000, 100000],
                           "labelExpr": "datum.value == 100 ? '10²' : datum.value == 1000 ? '10³' : datum.value == 10000 ? '10⁴' : datum.value == 100000 ? '10⁵' : ''",
                           "tickSize": {"condition": {"test": "datum.value == 100 || datum.value == 1000 || datum.value == 10000 || datum.value == 100000", "value": -3}, "value": -1.5}}}
          }
        },
        {
          "transform": [{"filter": "isValid(datum.vtr)"}],
          "mark": {"type": "rule", "stroke": "#333333", "strokeWidth": 0.8, "strokeDash": [3, 2]},
          "encoding": {"y": {"field": "vtr", "type": "quantitative", "scale": {"type": "log", "domain": [100, 100000]}, "axis": null}}
        },
        {
          "transform": [{"filter": "isValid(datum.vtr)"}],
          "mark": {"type": "text", "text": "VTR", "baseline": "bottom", "dy": -3, "fontSize": 12, "color": "#000000"},
          "encoding": {"x": {"datum": 54, "type": "quantitative", "scale": {"domain": [0, 100]}, "axis": null}, "y": {"field": "vtr", "type": "quantitative", "scale": {"type": "log", "domain": [100, 100000]}, "axis": null}}
        },
        {
          "mark": {"type": "point", "opacity": 0},
          "encoding": {
            "x": {"datum": 0, "type": "quantitative", "scale": {"domain": [0, 100]}, "axis": {"orient": "top", "values": [0, 20, 40, 60, 80, 100], "labels": false, "title": null}},
            "y": {"datum": 1000, "type": "quantitative", "scale": {"type": "log", "domain": [100, 100000]},
                  "axis": {"orient": "right", "labels": false, "title": null, "values": [100, 200, 300, 400, 500, 600, 700, 800, 900, 1000, 2000, 3000, 4000, 5000, 6000, 7000, 8000, 9000, 10000, 20000, 30000, 40000, 50000, 60000, 70000, 80000, 90000, 100000],
                           "tickSize": {"condition": {"test": "datum.value == 100 || datum.value == 1000 || datum.value == 10000 || datum.value == 100000", "value": -3}, "value": -1.5}}}
          }
        }
      ]
    },
    {
      "width": 236, "height": 168,
      "data": {"name": "cpuScatter"},
      "transform": [{"filter": "datum.method == 'MS-DHC-LIN'"}],
      "resolve": {"axis": {"x": "independent", "y": "independent"}},
      "layer": [
        {
          "transform": [{"filter": "isValid(datum.t)"}],
          "mark": {"type": "point", "shape": "circle", "filled": false, "stroke": "#c8525e", "strokeWidth": 0.8, "size": 32},
          "encoding": {
            "x": {"field": "t", "type": "quantitative", "scale": {"domain": [0, 30000]}, "axis": {"values": [5000, 10000, 15000, 20000, 25000, 30000], "labels": false, "title": null}},
            "y": {"field": "f", "type": "quantitative", "scale": {"type": "log", "domain": [100, 100000]},
                  "axis": {"title": null, "values": [100, 200, 300, 400, 500, 600, 700, 800, 900, 1000, 2000, 3000, 4000, 5000, 6000, 7000, 8000, 9000, 10000, 20000, 30000, 40000, 50000, 60000, 70000, 80000, 90000, 100000],
                           "labelExpr": "datum.value == 100 ? '10²' : datum.value == 1000 ? '10³' : datum.value == 10000 ? '10⁴' : datum.value == 100000 ? '10⁵' : ''",
                           "tickSize": {"condition": {"test": "datum.value == 100 || datum.value == 1000 || datum.value == 10000 || datum.value == 100000", "value": -3}, "value": -1.5}}}
          }
        },
        {
          "transform": [{"filter": "isValid(datum.vtr)"}],
          "mark": {"type": "rule", "stroke": "#333333", "strokeWidth": 0.8, "strokeDash": [3, 2]},
          "encoding": {"y": {"field": "vtr", "type": "quantitative", "scale": {"type": "log", "domain": [100, 100000]}, "axis": null}}
        },
        {
          "transform": [{"filter": "isValid(datum.vtr)"}],
          "mark": {"type": "text", "text": "VTR", "baseline": "bottom", "dy": -3, "fontSize": 12, "color": "#000000"},
          "encoding": {"x": {"datum": 16300, "type": "quantitative", "scale": {"domain": [0, 30000]}, "axis": null}, "y": {"field": "vtr", "type": "quantitative", "scale": {"type": "log", "domain": [100, 100000]}, "axis": null}}
        },
        {
          "mark": {"type": "point", "opacity": 0},
          "encoding": {
            "x": {"datum": 0, "type": "quantitative", "scale": {"domain": [0, 30000]}, "axis": {"orient": "top", "values": [5000, 10000, 15000, 20000, 25000, 30000], "labels": false, "title": null}},
            "y": {"datum": 1000, "type": "quantitative", "scale": {"type": "log", "domain": [100, 100000]},
                  "axis": {"orient": "right", "labels": false, "title": null, "values": [100, 200, 300, 400, 500, 600, 700, 800, 900, 1000, 2000, 3000, 4000, 5000, 6000, 7000, 8000, 9000, 10000, 20000, 30000, 40000, 50000, 60000, 70000, 80000, 90000, 100000],
                           "tickSize": {"condition": {"test": "datum.value == 100 || datum.value == 1000 || datum.value == 10000 || datum.value == 100000", "value": -3}, "value": -1.5}}}
          }
        }
      ]
    },
    {
      "width": 236, "height": 168,
      "data": {"name": "cpuHist"},
      "transform": [{"filter": "datum.method == 'MS-DHC-LIN'"}],
      "resolve": {"axis": {"x": "independent", "y": "independent"}},
      "layer": [
        {
          "mark": {"type": "rect", "fill": "#c4d78c", "stroke": "#3c4030", "strokeWidth": 0.7},
          "encoding": {
            "x": {"field": "lo", "type": "quantitative", "scale": {"domain": [0, 30000]}, "axis": {"values": [5000, 10000, 15000, 20000, 25000, 30000], "labels": false, "title": null}},
            "x2": {"field": "hi"},
            "y": {"field": "count", "type": "quantitative", "scale": {"domain": [0, 100]}, "axis": {"values": [0, 20, 40, 60, 80, 100], "title": null}},
            "y2": {"datum": 0}
          }
        },
        {
          "mark": {"type": "point", "opacity": 0},
          "encoding": {
            "x": {"datum": 0, "type": "quantitative", "scale": {"domain": [0, 30000]}, "axis": {"orient": "top", "values": [5000, 10000, 15000, 20000, 25000, 30000], "labels": false, "title": null}},
            "y": {"datum": 0, "type": "quantitative", "scale": {"domain": [0, 100]}, "axis": {"orient": "right", "values": [0, 20, 40, 60, 80, 100], "labels": false, "title": null}}
          }
        }
      ]
    },
    {
      "width": 236, "height": 168,
      "data": {"name": "objHist"},
      "transform": [{"filter": "datum.method == 'MS-NL2SOL-FWD-LIN'"}],
      "resolve": {"axis": {"x": "independent", "y": "independent"}},
      "layer": [
        {
          "transform": [{"filter": "isValid(datum.count)"}],
          "mark": {"type": "rect", "fill": "#9e8ba6", "stroke": "#2e2433", "strokeWidth": 0.7},
          "encoding": {
            "x": {"field": "lo", "type": "quantitative", "scale": {"domain": [0, 100000]},
                  "axis": {"values": [10000, 20000, 30000, 40000, 50000, 60000, 70000, 80000, 90000, 100000], "labelExpr": "datum.value / 10000", "labelOverlap": false, "title": "Final objective function values"}},
            "x2": {"field": "hi"},
            "y": {"field": "count", "type": "quantitative", "scale": {"domain": [0, 100]},
                  "axis": {"values": [0, 20, 40, 60, 80, 100], "labelOverlap": false, "title": "MS-NL2SOL-FWD-LIN", "titleAngle": 0, "titleAlign": "right", "titleBaseline": "middle", "titleX": -25, "titleY": 84, "titleFontSize": 11}},
            "y2": {"datum": 0}
          }
        },
        {
          "transform": [{"filter": "isValid(datum.note)"}],
          "mark": {"type": "text", "align": "right", "baseline": "middle", "fontSize": 9.5, "color": "#404040"},
          "encoding": {
            "x": {"datum": 100000, "type": "quantitative", "scale": {"domain": [0, 100000]}, "axis": null},
            "y": {"datum": -13, "type": "quantitative", "scale": {"domain": [0, 100]}, "axis": null},
            "text": {"field": "note"}
          }
        },
        {
          "mark": {"type": "point", "opacity": 0},
          "encoding": {
            "x": {"datum": 0, "type": "quantitative", "scale": {"domain": [0, 100000]}, "axis": {"orient": "top", "values": [10000, 20000, 30000, 40000, 50000, 60000, 70000, 80000, 90000, 100000], "labels": false, "title": null}},
            "y": {"datum": 0, "type": "quantitative", "scale": {"domain": [0, 100]}, "axis": {"orient": "right", "values": [0, 20, 40, 60, 80, 100], "labels": false, "title": null}}
          }
        }
      ]
    },
    {
      "width": 236, "height": 168,
      "data": {"name": "sortedRuns"},
      "transform": [{"filter": "datum.method == 'MS-NL2SOL-FWD-LIN'"}],
      "resolve": {"axis": {"x": "independent", "y": "independent"}},
      "layer": [
        {
          "transform": [{"filter": "isValid(datum.run)"}],
          "mark": {"type": "point", "shape": "circle", "filled": false, "stroke": "#4f9fdc", "strokeWidth": 0.8, "size": 30},
          "encoding": {
            "x": {"field": "run", "type": "quantitative", "scale": {"domain": [0, 100]}, "axis": {"values": [0, 20, 40, 60, 80, 100], "labelOverlap": false, "title": "Sorted optimization runs"}},
            "y": {"field": "f", "type": "quantitative", "scale": {"type": "log", "domain": [100, 100000]},
                  "axis": {"title": null, "values": [100, 200, 300, 400, 500, 600, 700, 800, 900, 1000, 2000, 3000, 4000, 5000, 6000, 7000, 8000, 9000, 10000, 20000, 30000, 40000, 50000, 60000, 70000, 80000, 90000, 100000],
                           "labelExpr": "datum.value == 100 ? '10²' : datum.value == 1000 ? '10³' : datum.value == 10000 ? '10⁴' : datum.value == 100000 ? '10⁵' : ''",
                           "tickSize": {"condition": {"test": "datum.value == 100 || datum.value == 1000 || datum.value == 10000 || datum.value == 100000", "value": -3}, "value": -1.5}}}
          }
        },
        {
          "transform": [{"filter": "isValid(datum.vtr)"}],
          "mark": {"type": "rule", "stroke": "#333333", "strokeWidth": 0.8, "strokeDash": [3, 2]},
          "encoding": {"y": {"field": "vtr", "type": "quantitative", "scale": {"type": "log", "domain": [100, 100000]}, "axis": null}}
        },
        {
          "transform": [{"filter": "isValid(datum.vtr)"}],
          "mark": {"type": "text", "text": "VTR", "baseline": "bottom", "dy": -3, "fontSize": 12, "color": "#000000"},
          "encoding": {"x": {"datum": 54, "type": "quantitative", "scale": {"domain": [0, 100]}, "axis": null}, "y": {"field": "vtr", "type": "quantitative", "scale": {"type": "log", "domain": [100, 100000]}, "axis": null}}
        },
        {
          "mark": {"type": "point", "opacity": 0},
          "encoding": {
            "x": {"datum": 0, "type": "quantitative", "scale": {"domain": [0, 100]}, "axis": {"orient": "top", "values": [0, 20, 40, 60, 80, 100], "labels": false, "title": null}},
            "y": {"datum": 1000, "type": "quantitative", "scale": {"type": "log", "domain": [100, 100000]},
                  "axis": {"orient": "right", "labels": false, "title": null, "values": [100, 200, 300, 400, 500, 600, 700, 800, 900, 1000, 2000, 3000, 4000, 5000, 6000, 7000, 8000, 9000, 10000, 20000, 30000, 40000, 50000, 60000, 70000, 80000, 90000, 100000],
                           "tickSize": {"condition": {"test": "datum.value == 100 || datum.value == 1000 || datum.value == 10000 || datum.value == 100000", "value": -3}, "value": -1.5}}}
          }
        }
      ]
    },
    {
      "width": 236, "height": 168,
      "data": {"name": "cpuScatter"},
      "transform": [{"filter": "datum.method == 'MS-NL2SOL-FWD-LIN'"}],
      "resolve": {"axis": {"x": "independent", "y": "independent"}},
      "layer": [
        {
          "transform": [{"filter": "isValid(datum.t)"}],
          "mark": {"type": "point", "shape": "circle", "filled": false, "stroke": "#c8525e", "strokeWidth": 0.8, "size": 32},
          "encoding": {
            "x": {"field": "t", "type": "quantitative", "scale": {"domain": [0, 30000]},
                  "axis": {"values": [5000, 10000, 15000, 20000, 25000, 30000], "labelExpr": "datum.value / 10000", "labelOverlap": false, "title": "CPU time (seconds)"}},
            "y": {"field": "f", "type": "quantitative", "scale": {"type": "log", "domain": [100, 100000]},
                  "axis": {"title": null, "values": [100, 200, 300, 400, 500, 600, 700, 800, 900, 1000, 2000, 3000, 4000, 5000, 6000, 7000, 8000, 9000, 10000, 20000, 30000, 40000, 50000, 60000, 70000, 80000, 90000, 100000],
                           "labelExpr": "datum.value == 100 ? '10²' : datum.value == 1000 ? '10³' : datum.value == 10000 ? '10⁴' : datum.value == 100000 ? '10⁵' : ''",
                           "tickSize": {"condition": {"test": "datum.value == 100 || datum.value == 1000 || datum.value == 10000 || datum.value == 100000", "value": -3}, "value": -1.5}}}
          }
        },
        {
          "transform": [{"filter": "isValid(datum.vtr)"}],
          "mark": {"type": "rule", "stroke": "#333333", "strokeWidth": 0.8, "strokeDash": [3, 2]},
          "encoding": {"y": {"field": "vtr", "type": "quantitative", "scale": {"type": "log", "domain": [100, 100000]}, "axis": null}}
        },
        {
          "transform": [{"filter": "isValid(datum.vtr)"}],
          "mark": {"type": "text", "text": "VTR", "baseline": "bottom", "dy": -3, "fontSize": 12, "color": "#000000"},
          "encoding": {"x": {"datum": 16300, "type": "quantitative", "scale": {"domain": [0, 30000]}, "axis": null}, "y": {"field": "vtr", "type": "quantitative", "scale": {"type": "log", "domain": [100, 100000]}, "axis": null}}
        },
        {
          "transform": [{"filter": "isValid(datum.note)"}],
          "mark": {"type": "text", "align": "right", "baseline": "middle", "fontSize": 9.5, "color": "#404040"},
          "encoding": {
            "x": {"datum": 30000, "type": "quantitative", "scale": {"domain": [0, 30000]}, "axis": null},
            "y": {"datum": 40, "type": "quantitative", "scale": {"type": "log", "domain": [100, 100000]}, "axis": null},
            "text": {"field": "note"}
          }
        },
        {
          "mark": {"type": "point", "opacity": 0},
          "encoding": {
            "x": {"datum": 0, "type": "quantitative", "scale": {"domain": [0, 30000]}, "axis": {"orient": "top", "values": [5000, 10000, 15000, 20000, 25000, 30000], "labels": false, "title": null}},
            "y": {"datum": 1000, "type": "quantitative", "scale": {"type": "log", "domain": [100, 100000]},
                  "axis": {"orient": "right", "labels": false, "title": null, "values": [100, 200, 300, 400, 500, 600, 700, 800, 900, 1000, 2000, 3000, 4000, 5000, 6000, 7000, 8000, 9000, 10000, 20000, 30000, 40000, 50000, 60000, 70000, 80000, 90000, 100000],
                           "tickSize": {"condition": {"test": "datum.value == 100 || datum.value == 1000 || datum.value == 10000 || datum.value == 100000", "value": -3}, "value": -1.5}}}
          }
        }
      ]
    },
    {
      "width": 236, "height": 168,
      "data": {"name": "cpuHist"},
      "transform": [{"filter": "datum.method == 'MS-NL2SOL-FWD-LIN'"}],
      "resolve": {"axis": {"x": "independent", "y": "independent"}},
      "layer": [
        {
          "transform": [{"filter": "isValid(datum.count)"}],
          "mark": {"type": "rect", "fill": "#c4d78c", "stroke": "#3c4030", "strokeWidth": 0.7},
          "encoding": {
            "x": {"field": "lo", "type": "quantitative", "scale": {"domain": [0, 30000]},
                  "axis": {"values": [5000, 10000, 15000, 20000, 25000, 30000], "labelExpr": "datum.value / 10000", "labelOverlap": false, "title": "CPU time (seconds)"}},
            "x2": {"field": "hi"},
            "y": {"field": "count", "type": "quantitative", "scale": {"domain": [0, 100]}, "axis": {"values": [0, 20, 40, 60, 80, 100], "labelOverlap": false, "title": null}},
            "y2": {"datum": 0}
          }
        },
        {
          "transform": [{"filter": "isValid(datum.note)"}],
          "mark": {"type": "text", "align": "right", "baseline": "middle", "fontSize": 9.5, "color": "#404040"},
          "encoding": {
            "x": {"datum": 30000, "type": "quantitative", "scale": {"domain": [0, 30000]}, "axis": null},
            "y": {"datum": -13, "type": "quantitative", "scale": {"domain": [0, 100]}, "axis": null},
            "text": {"field": "note"}
          }
        },
        {
          "mark": {"type": "point", "opacity": 0},
          "encoding": {
            "x": {"datum": 0, "type": "quantitative", "scale": {"domain": [0, 30000]}, "axis": {"orient": "top", "values": [5000, 10000, 15000, 20000, 25000, 30000], "labels": false, "title": null}},
            "y": {"datum": 0, "type": "quantitative", "scale": {"domain": [0, 100]}, "axis": {"orient": "right", "values": [0, 20, 40, 60, 80, 100], "labels": false, "title": null}}
          }
        }
      ]
    }
  ],
  "config": {
    "font": "Liberation Sans",
    "background": "#ffffff",
    "view": {"stroke": "#808080", "strokeWidth": 0.8},
    "axis": {
      "domain": false, "grid": false,
      "tickSize": -3, "tickColor": "#555555", "tickWidth": 0.7,
      "labelPadding": 6, "labelFontSize": 10, "labelColor": "#333333",
      "labelFlush": false, "labelOverlap": false,
      "titleFontSize": 11, "titleFontWeight": "normal", "titleColor": "#262626", "titlePadding": 2
    },
    "title": {"fontSize": 11, "fontWeight": "normal", "color": "#1a1a1a", "offset": -4}
  }
}
